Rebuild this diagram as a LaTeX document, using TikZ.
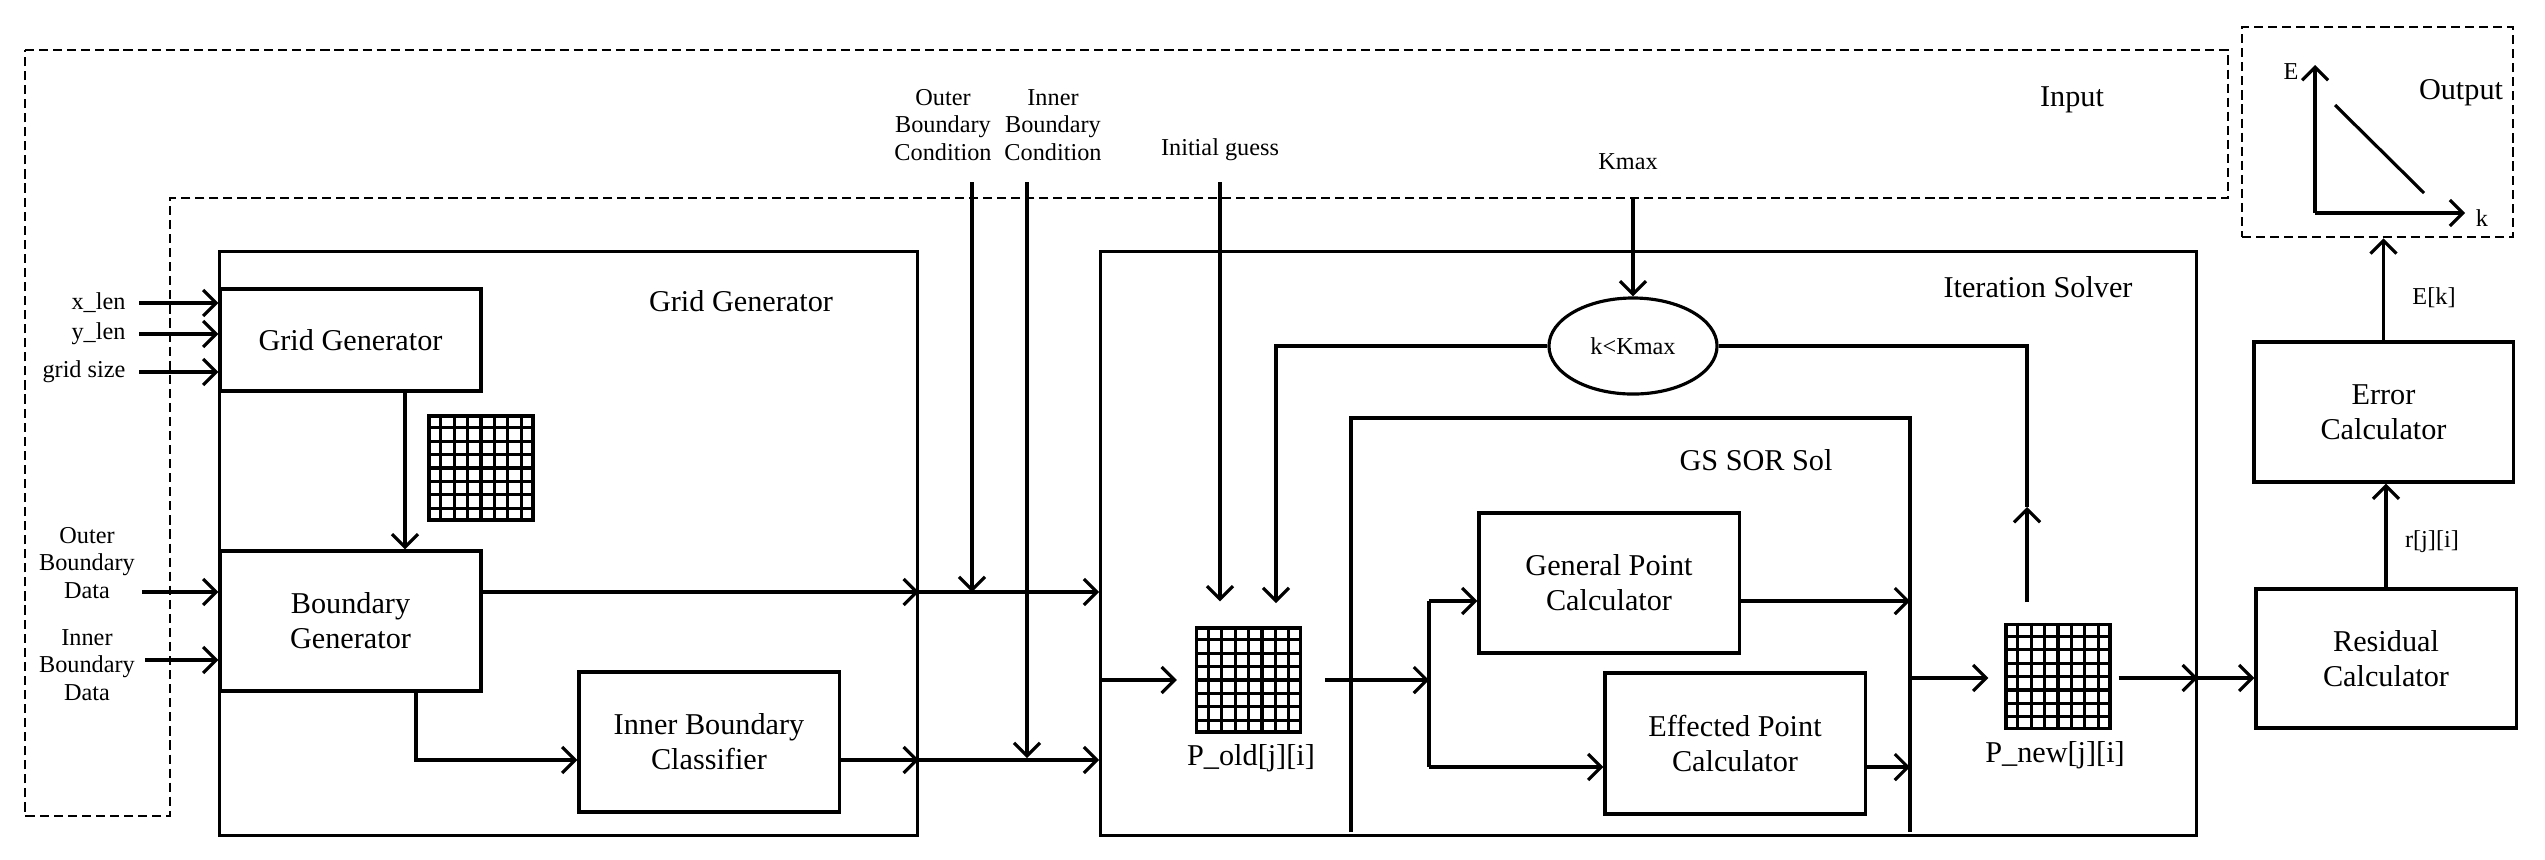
\documentclass[tikz,border=0pt]{standalone}
\usepackage{fontspec}
\setmainfont{Liberation Serif}
\usepackage{tikz}
\usetikzlibrary{arrows.meta,positioning,shapes.geometric,calc}
\newcommand{\boxfont}{\fontsize{8.6pt}{9.9pt}\selectfont}
\newcommand{\tagfont}{\fontsize{6.9pt}{7.8pt}\selectfont}
% 8x8 mesh inside a node
\newcommand{\meshlines}[1]{%
  \foreach \ii in {1,...,7} {
    \draw ($(#1.north west)!\ii/8!(#1.north east)$) -- ($(#1.south west)!\ii/8!(#1.south east)$);
    \draw ($(#1.north west)!\ii/8!(#1.south west)$) -- ($(#1.north east)!\ii/8!(#1.south east)$);
  }}

\begin{document}
\begin{tikzpicture}[x=0.01cm,y=-0.01cm, line width=0.9pt,
        arr/.style={-{Straight Barb[length=1.3mm,width=2.6mm]}},
        blk/.style={draw, inner sep=0pt, align=center, font=\boxfont},
        frame/.style={draw, inner sep=0pt},
        region/.style={draw, line width=0.7pt, dash pattern=on 2.6pt off 1.4pt},
        tag/.style={inner sep=0pt, align=center, font=\tagfont},
        title/.style={inner sep=0pt, font=\boxfont},
        mesh/.style={draw, inner sep=0pt, minimum size=1.04cm}]
        \useasboundingbox (0,0) rectangle (2545,859);

        % input and output regions
        \draw[region] (25,50) -- (2228,50) -- (2228,198) -- (170,198) -- (170,816) -- (25,816) -- cycle;
        \node[title] (inlbl) at (2072,100) {Input};
        \node[region, inner sep=0pt, minimum width=2.71cm, minimum height=2.10cm] (outbox) at (2377.5,132) {};
        \node[title] (outlbl) at (2461,93) {Output};
        \coordinate (orig) at (2315,213);
        \draw[arr] (orig) -- (2315,65);
        \draw[arr] (orig) -- (2465,213);
        \draw (2335,105) -- (2424,193);
        \node[tag] (elbl) at (2291,72) {E};
        \node[tag] (klbl) at (2482,218) {k};

        % grid generator
        \node[frame, minimum width=6.97cm, minimum height=5.83cm] (gridbox) at (568.5,543.5) {};
        \node[title] (gridlbl) at (741,301) {Grid Generator};
        \node[blk, minimum width=2.61cm, minimum height=1.02cm] (ggen) at (350.5,340) {Grid Generator};
        \node[blk, minimum width=2.61cm, minimum height=1.40cm] (bgen) at (350.5,621) {Boundary\\Generator};
        \node[blk, minimum width=2.60cm, minimum height=1.40cm] (ibc) at (709,742) {Inner Boundary\\Classifier};
        \node[mesh] (mesh1) at (481,468) {};
        \meshlines{mesh1}

        \node[tag, anchor=east] (xlen) at (127,303) {x\_len};
        \node[tag, anchor=east] (ylen) at (127,334) {y\_len};
        \node[tag, anchor=east] (gsize) at (127,372) {grid size};
        \foreach \nm in {xlen,ylen,gsize}
          \draw[arr] ([xshift=0.12cm]\nm.east) -- (\nm -| ggen.west);
        \node[tag] (obd) at (87,563) {Outer\\Boundary\\Data};
        \node[tag] (ibd) at (87,665) {Inner\\Boundary\\Data};
        \coordinate (obdin) at (142,592);
        \coordinate (ibdin) at (145,660);
        \draw[arr] (obdin) -- (obdin -| bgen.west);
        \draw[arr] (ibdin) -- (ibdin -| bgen.west);
        \draw[arr] ([xshift=0.545cm]ggen.south) -- ([xshift=0.545cm]bgen.north);

        \coordinate (ibclvl) at (0,760);
        \draw[arr] (bgen.east |- obdin) -- (obdin -| gridbox.east);
        \draw[arr] ([xshift=0.655cm]bgen.south) |- (ibclvl -| ibc.west);
        \draw[arr] (ibclvl -| ibc.east) -- (ibclvl -| gridbox.east);

        % iteration solver
        \node[frame, minimum width=10.95cm, minimum height=5.83cm] (iterbox) at (1648.5,543.5) {};
        \node[title] (iterlbl) at (2038,287) {Iteration Solver};
        \draw[arr] (obdin -| gridbox.east) -- (obdin -| iterbox.west);
        \draw[arr] (ibclvl -| gridbox.east) -- (ibclvl -| iterbox.west);

        \node[tag] (obc) at (943,125) {Outer\\Boundary\\Condition};
        \node[tag] (ibcond) at (1053,125) {Inner\\Boundary\\Condition};
        \node[tag] (guess) at (1220,150) {Initial guess};
        \node[tag] (kmax) at (1628,162) {Kmax};
        \coordinate (obctop) at (972,182);
        \coordinate (ibctop) at (1027,182);
        \coordinate (guesstop) at (1220,182);
        \coordinate (kmaxtop) at (1633,198);
        \draw[arr] (obctop) -- (obctop |- obdin);
        \draw[arr] (ibctop) -- ([yshift=0.02cm]ibctop |- ibclvl);

        \node[draw, ellipse, inner sep=0pt, minimum width=1.68cm, minimum height=0.96cm, font=\tagfont] (kcheck) at (1633,346) {k<Kmax};
        \draw[arr] (kmaxtop) -- (kcheck.north);

        \node[mesh] (pold) at (1248.5,680) {};
        \meshlines{pold}
        \node[title] (poldlbl) at (1251,758) {P\_old[j][i]};
        \draw[arr] (guesstop) -- ([yshift=0.25cm]guesstop |- pold.north);
        \coordinate (loopx) at (1276,603);
        \draw[arr] (kcheck.west) -| (loopx);
        \draw[arr] (iterbox.west |- pold.west) -- ([xshift=-0.18cm]pold.west);

        % GS SOR solver
        \coordinate (gsright) at (1910,418);
        \draw (1351,832) -- (1351,418) -- (gsright) -- (1910,832);
        \node[title] (gslbl) at (1756,460) {GS SOR Sol};
        \node[blk, minimum width=2.60cm, minimum height=1.40cm] (gpc) at (1609,583) {General Point\\Calculator};
        \node[blk, minimum width=2.60cm, minimum height=1.41cm] (epc) at (1735,743.5) {Effected Point\\Calculator};
        \coordinate (split) at (1429,680);
        \coordinate (gpcin) at (1429,601);
        \coordinate (epcin) at (1429,767);
        \draw[arr] ([xshift=0.23cm]pold.east) -- (split);
        \draw (gpcin) -- (epcin);
        \draw[arr] (gpcin) -- (gpcin -| gpc.west);
        \draw[arr] (epcin) -- (epcin -| epc.west);
        \draw[arr] (gpcin -| gpc.east) -- (gpcin -| gsright);
        \draw[arr] (epcin -| epc.east) -- (epcin -| gsright);

        \node[mesh] (pnew) at (2058,676.5) {};
        \meshlines{pnew}
        \node[title] (pnewlbl) at (2055,755) {P\_new[j][i]};
        \coordinate (pnewlvl) at (1910,678);
        \draw[arr] (pnewlvl) -- ([xshift=-0.16cm]pnewlvl -| pnew.west);
        \coordinate (fbtop) at (2027,602);
        \coordinate (fbtip) at (2027,507);
        \draw[arr] (fbtop) -- (fbtip);
        \draw (fbtip) |- (kcheck.east);

        % error estimation
        \node[blk, minimum width=2.60cm, minimum height=1.39cm] (resc) at (2386,658.5) {Residual\\Calculator};
        \node[blk, minimum width=2.59cm, minimum height=1.40cm] (errc) at (2383.5,412) {Error\\Calculator};
        \draw[arr] ([xshift=0.07cm]pnew.east |- pnewlvl) -- (pnewlvl -| iterbox.east);
        \draw[arr] (pnewlvl -| iterbox.east) -- (pnewlvl -| resc.west);
        \draw[arr] (resc.north) -- (resc.north |- errc.south);
        \draw[arr] (errc.north) -- (errc.north |- outbox.south);
        \node[tag] (rlbl) at (2432,542) {r[j][i]};
        \node[tag] (eklbl) at (2434,298) {E[k]};
      \end{tikzpicture}
\end{document}
